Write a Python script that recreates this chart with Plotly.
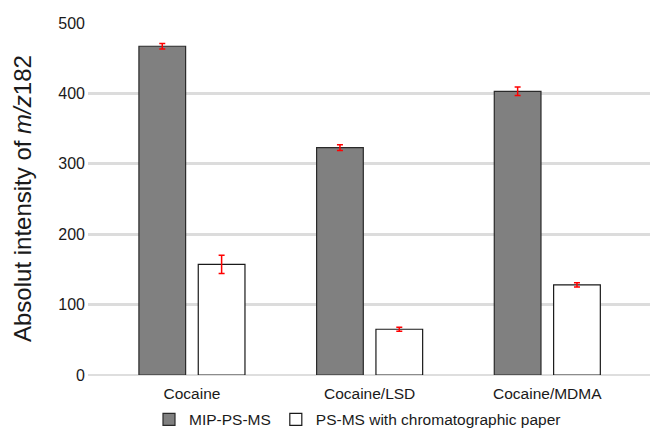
import plotly.graph_objects as go

categories = ["Cocaine", "Cocaine/LSD", "Cocaine/MDMA"]
mip_values = [467, 323, 403]
mip_errors = [4, 4, 6]
ps_values = [157, 65, 128]
ps_errors = [13, 3, 3]
series_names = ["MIP-PS-MS", "PS-MS with chromatographic paper"]
y_ticks = [0, 100, 200, 300, 400, 500]

FONT = "Liberation Sans, Arial, Helvetica, sans-serif"

fig = go.Figure()
fig.add_trace(go.Bar(
    x=categories, y=mip_values, name=series_names[0],
    marker=dict(color="#808080", line=dict(color="#2a2a2a", width=1.2)),
    error_y=dict(type="data", array=mip_errors, color="#ff0000", thickness=1.5, width=3),
))
fig.add_trace(go.Bar(
    x=categories, y=ps_values, name=series_names[1],
    marker=dict(color="#ffffff", line=dict(color="#1a1a1a", width=1.2)),
    error_y=dict(type="data", array=ps_errors, color="#ff0000", thickness=1.5, width=3),
))

fig.update_layout(
    width=650, height=436,
    margin=dict(l=88, r=0, t=23, b=61, autoexpand=False),
    paper_bgcolor="white", plot_bgcolor="white",
    barmode="group", bargap=0.332, bargroupgap=0.213,
    font=dict(family=FONT, size=16, color="#1a1a1a"),
    showlegend=True,
    legend=dict(orientation="h", x=0.55, xanchor="center", xref="container",
                y=0.037, yanchor="middle", yref="container",
                bgcolor="rgba(0,0,0,0)",
                font=dict(size=15.5), itemwidth=30, traceorder="normal"),
    xaxis=dict(range=[-0.585, 2.578], showgrid=False, showline=False,
               zeroline=False, ticks="", tickfont=dict(size=15.5),
               ticklabelstandoff=7),
    yaxis=dict(range=[0, 500], tickvals=y_ticks, showgrid=True,
               gridcolor="#dcdcdc", gridwidth=2.5, zeroline=True,
               zerolinecolor="#dedede", zerolinewidth=1.5, showline=False,
               ticks="", tickfont=dict(size=16), ticklabelstandoff=2),
    annotations=[dict(
        text="Absolut intensity of <i>m/z</i>182", textangle=-90,
        xref="paper", yref="paper", x=0, y=0.5, xshift=-66,
        xanchor="center", yanchor="middle", showarrow=False,
        font=dict(size=24, color="#1a1a1a"),
    )],
)

fig.write_html("out.html", config={"displayModeBar": False},
               post_script="document.body.style.margin='0';")
